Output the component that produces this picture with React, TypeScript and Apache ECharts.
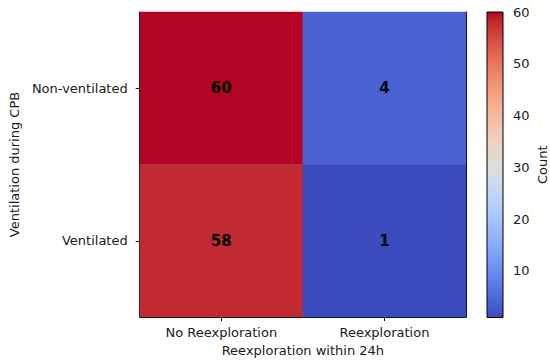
import React, { useEffect, useRef } from "react";
import * as echarts from "echarts";

const xCategories = ["No Reexploration", "Reexploration"];
const yCategories = ["Ventilated", "Non-ventilated"]; // bottom to top
// [xIndex, yIndex, count]
const cellValues: [number, number, number][] = [
  [0, 1, 60],
  [1, 1, 4],
  [0, 0, 58],
  [1, 0, 1],
];
const colorbarMin = 1;
const colorbarMax = 60;
const colorbarTicks = [10, 20, 30, 40, 50, 60];

const coolwarm = [
  "#3b4cc0", "#445acc", "#4d68d7", "#5775e1", "#6282ea", "#6c8ef1", "#779af7", "#82a5fb",
  "#8db0fe", "#98b9ff", "#a3c2ff", "#aec9fd", "#b8d0f9", "#c2d5f4", "#ccd9ee", "#d5dbe6",
  "#dddddd", "#e5d8d1", "#ecd3c5", "#f1ccb8", "#f5c4ad", "#f7bba0", "#f7b194", "#f7a687",
  "#f49a7b", "#f18d6f", "#ec7f63", "#e57058", "#de604d", "#d55042", "#cb3e38", "#c0282f",
  "#b40426",
];

const FONT = "DejaVu Sans";
const TXT = "#1a1a1a";

export default function App() {
  const ref = useRef<HTMLDivElement>(null);
  useEffect(() => {
    document.body.style.margin = "0";
    if (!ref.current) return;
    const chart = echarts.init(ref.current, undefined, { renderer: "svg" });
    const stops = coolwarm.map((c, i) => ({ offset: i / (coolwarm.length - 1), color: c }));
    const option: any = {
      animation: false,
      backgroundColor: "#fff",
      textStyle: { fontFamily: FONT },
      grid: [
        { left: 133, top: 12, right: 84, bottom: 44, containLabel: false },
        { left: 487, top: 12, width: 16, bottom: 44.5, containLabel: false },
      ],
      visualMap: {
        show: false,
        type: "continuous",
        min: colorbarMin,
        max: colorbarMax,
        dimension: 2,
        seriesIndex: 0,
        inRange: { color: coolwarm },
      },
      xAxis: [
        {
          type: "category",
          gridIndex: 0,
          data: xCategories,
          position: "bottom",
          name: "Reexploration within 24h",
          nameLocation: "middle",
          nameGap: 27,
          nameTextStyle: { fontSize: 13, color: TXT, fontFamily: FONT },
          axisLine: { show: true, lineStyle: { color: "#000", width: 1 } },
          axisTick: { show: true, alignWithLabel: true, length: 4, lineStyle: { color: "#000" } },
          axisLabel: { fontSize: 13, color: TXT, margin: 9, fontFamily: FONT },
          splitLine: { show: false },
        },
        {
          type: "category",
          gridIndex: 0,
          data: xCategories,
          position: "top",
          axisLine: { show: true, lineStyle: { color: "#000", width: 1 } },
          axisTick: { show: false },
          axisLabel: { show: false },
        },
        {
          type: "value",
          gridIndex: 1,
          min: 0,
          max: 1,
          show: false,
        },
      ],
      yAxis: [
        {
          type: "category",
          gridIndex: 0,
          data: yCategories,
          position: "left",
          name: "Ventilation during CPB",
          nameLocation: "middle",
          nameRotate: 90,
          nameGap: 111,
          nameTextStyle: { fontSize: 13, color: TXT, fontFamily: FONT },
          axisLine: { show: true, lineStyle: { color: "#000", width: 1 } },
          axisTick: { show: true, alignWithLabel: true, length: 4, lineStyle: { color: "#000" } },
          axisLabel: { fontSize: 13, color: TXT, margin: 12, fontFamily: FONT },
        },
        {
          type: "category",
          gridIndex: 0,
          data: yCategories,
          position: "right",
          axisLine: { show: true, lineStyle: { color: "#000", width: 1 } },
          axisTick: { show: false },
          axisLabel: { show: false },
        },
        {
          type: "value",
          gridIndex: 1,
          position: "right",
          min: colorbarMin,
          max: colorbarMax,
          name: "Count",
          nameLocation: "middle",
          nameRotate: 90,
          nameGap: 33,
          nameTextStyle: { fontSize: 13, color: TXT, fontFamily: FONT },
          axisLine: { show: false },
          axisTick: {
            show: true,
            length: 4,
            lineStyle: { color: "#000" },
            customValues: colorbarTicks,
          },
          axisLabel: {
            fontSize: 13,
            color: TXT,
            margin: 10,
            fontFamily: FONT,
            customValues: colorbarTicks,
          },
          splitLine: { show: false },
        },
      ],
      series: [
        {
          type: "heatmap",
          xAxisIndex: 0,
          yAxisIndex: 0,
          data: cellValues,
          itemStyle: { borderWidth: 0 },
          label: {
            show: true,
            fontSize: 15,
            fontWeight: "bold",
            color: "#000",
            fontFamily: FONT,
            formatter: (p: any) => String(p.value[2]),
          },
          emphasis: { disabled: true },
        },
        {
          type: "custom",
          xAxisIndex: 2,
          yAxisIndex: 2,
          data: [[0, colorbarMin, 1, colorbarMax]],
          renderItem: (params: any, api: any) => {
            const p0 = api.coord([api.value(0), api.value(1)]);
            const p1 = api.coord([api.value(2), api.value(3)]);
            return {
              type: "rect",
              shape: { x: p0[0], y: p1[1], width: p1[0] - p0[0], height: p0[1] - p1[1] },
              style: {
                fill: new echarts.graphic.LinearGradient(0, 1, 0, 0, stops),
                stroke: "#000",
                lineWidth: 1,
              },
            };
          },
          silent: true,
        },
      ],
    };
    chart.setOption(option);
    return () => chart.dispose();
  }, []);
  return <div ref={ref} style={{ width: 550, height: 362 }} />;
}
